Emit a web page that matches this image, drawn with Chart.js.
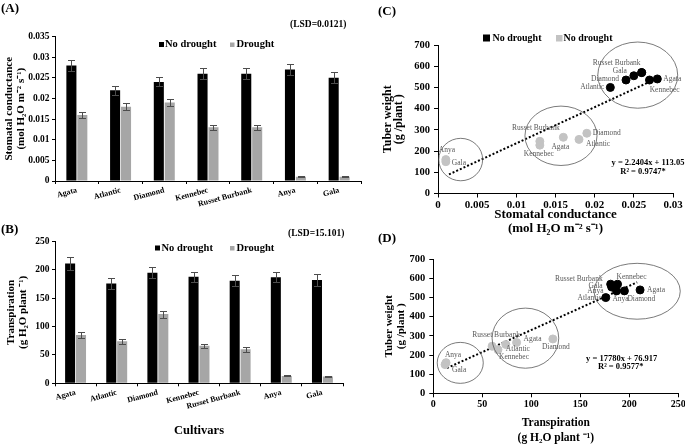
<!DOCTYPE html>
<html><head><meta charset="utf-8">
<script src="https://cdn.jsdelivr.net/npm/chart.js@4.4.0/dist/chart.umd.min.js"></script>
<style>
html,body{margin:0;padding:0;background:#fff;width:685px;height:446px;overflow:hidden}
canvas{position:absolute;display:block}
</style></head><body>
<canvas id="cA" width="365" height="220" style="left:0;top:0;width:365px;height:220px"></canvas>
<canvas id="cB" width="350" height="226" style="left:0;top:220px;width:350px;height:226px"></canvas>
<canvas id="cC" width="340" height="240" style="left:345px;top:0;width:340px;height:240px"></canvas>
<canvas id="cD" width="340" height="226" style="left:345px;top:220px;width:340px;height:226px"></canvas>
<script>
// ---------------- data ----------------
const cultivars = ['Agata','Atlantic','Diamond','Kennebec','Russet Burbank','Anya','Gala'];
const gsNoDrought    = [0.028, 0.022, 0.024, 0.026, 0.026, 0.027, 0.025];
const gsNoDroughtErr = [0.0014, 0.0011, 0.0011, 0.0013, 0.0013, 0.0014, 0.0013];
const gsDrought      = [0.016, 0.018, 0.019, 0.013, 0.013, 0.001, 0.001];
const gsDroughtErr   = [0.0008, 0.0009, 0.0009, 0.0006, 0.0006, 0.0001, 0.0001];
const trNoDrought    = [211, 176, 195, 188, 181, 187, 182];
const trNoDroughtErr = [11, 9, 10, 9, 10, 9, 10];
const trDrought      = [85, 74, 122, 66, 60, 13, 12];
const trDroughtErr   = [5, 4, 6, 3.5, 4, 1, 1];
const tuberNoDrought = [540, 500, 535, 570, 570, 535, 555];
const tuberDrought   = [265, 255, 284, 228, 246, 160, 150];
const gsTicks      = ['0','0.005','0.01','0.015','0.02','0.025','0.03','0.035'];
const trTicks      = ['0','50','100','150','200','250'];
const tuberTicks   = ['0','100','200','300','400','500','600','700'];
const gsXTicks     = ['0','0.005','0.01','0.015','0.02','0.025','0.03'];
const trXTicks     = ['0','50','100','150','200','250'];
const gsTrendX = [0.0014, 0.0281];
const gsTrendY = [90, 545];
const trTrendX = [14, 208];
const trTrendY = [132, 580];
// group ellipses in data units: centre x, centre y, radius x, radius y
const gsGroupCx = [0.0029, 0.0157, 0.0255];
const gsGroupCy = [160, 272, 558];
const gsGroupRx = [0.0028, 0.0046, 0.0051];
const gsGroupRy = [100, 140, 156];
const trGroupCx = [27.5, 94, 208];
const trGroupCy = [159, 288, 533];
const trGroupRx = [23.5, 34, 44];
const trGroupRy = [107, 157, 146];

// ---------------- helpers ----------------
const SERIF = '"Liberation Serif", "Times New Roman", serif';
const bold = (size, lh) => ({family: SERIF, weight: 'bold', size, lineHeight: lh || 1.2});

const errorBars = {
  id: 'errorBars',
  afterDatasetsDraw(chart) {
    const ctx = chart.ctx, ys = chart.scales.y;
    chart.data.datasets.forEach((ds, di) => {
      if (!ds.errors) return;
      chart.getDatasetMeta(di).data.forEach((bar, i) => {
        const v = ds.data[i], e = ds.errors[i];
        const yt = Math.round(ys.getPixelForValue(v + e)) + 0.5;
        const yb = Math.round(ys.getPixelForValue(v - e)) + 0.5;
        const x = Math.round(bar.x) + 0.5;
        ctx.save();
        ctx.strokeStyle = '#4d4d4d'; ctx.lineWidth = 1;
        ctx.beginPath();
        ctx.moveTo(x, yt); ctx.lineTo(x, yb);
        ctx.moveTo(x - 3.5, yt); ctx.lineTo(x + 3.5, yt);
        ctx.moveTo(x - 3.5, yb); ctx.lineTo(x + 3.5, yb);
        ctx.stroke(); ctx.restore();
      });
    });
  }
};

const texts = {
  id: 'texts',
  afterDraw(chart, args, opts) {
    const ctx = chart.ctx;
    (opts.items || []).forEach(it => {
      ctx.save();
      if (it.box) {
        ctx.fillStyle = it.color; ctx.fillRect(it.x, it.y, it.w, it.h);
      } else {
        ctx.font = 'bold ' + it.size + 'px ' + SERIF;
        ctx.fillStyle = '#000';
        ctx.textAlign = it.align || 'left';
        ctx.textBaseline = 'middle';
        ctx.fillText(it.t, it.x, it.y);
      }
      ctx.restore();
    });
  }
};

const pointLabels = {
  id: 'pointLabels',
  afterDraw(chart, args, opts) {
    const ctx = chart.ctx;
    (opts.items || []).forEach(it => {
      const el = chart.getDatasetMeta(it.ds).data[it.i];
      ctx.save();
      ctx.font = '7.5px ' + SERIF;
      ctx.fillStyle = '#595959';
      ctx.textAlign = it.align;
      ctx.textBaseline = 'middle';
      ctx.fillText(it.t || cultivars[it.i], el.x + it.dx, el.y + it.dy);
      ctx.restore();
    });
  }
};

const groupEllipses = {
  id: 'groupEllipses',
  afterDatasetsDraw(chart, args, opts) {
    const ctx = chart.ctx, xs = chart.scales.x, ys = chart.scales.y;
    const g = opts.groups;
    for (let k = 0; k < g.cx.length; k++) {
      const cx = xs.getPixelForValue(g.cx[k]), cy = ys.getPixelForValue(g.cy[k]);
      const rx = Math.abs(xs.getPixelForValue(g.cx[k] + g.rx[k]) - cx);
      const ry = Math.abs(ys.getPixelForValue(g.cy[k] + g.ry[k]) - cy);
      ctx.save();
      ctx.strokeStyle = '#595959'; ctx.lineWidth = 0.8;
      ctx.beginPath(); ctx.ellipse(cx, cy, rx, ry, 0, 0, Math.PI * 2); ctx.stroke();
      ctx.restore();
    }
  }
};

function fixY(width) {
  return s => { s.width = width; s.paddingTop = 0; s.paddingBottom = 0; };
}
function fixX(height) {
  return s => { s.height = height; s.paddingLeft = 0; s.paddingRight = 0; };
}

function barChart(id, vals, pads, xh, yMax, step, yTicks, yTitle, yTitleFont, yTitlePad, catPct, extraX, textItems) {
  return new Chart(document.getElementById(id), {
    type: 'bar',
    data: {
      labels: cultivars,
      datasets: [
        {label: 'No drought', data: vals[0], errors: vals[1], backgroundColor: '#000000',
         categoryPercentage: catPct, barPercentage: 0.92},
        {label: 'Drought', data: vals[2], errors: vals[3], backgroundColor: '#a6a6a6',
         categoryPercentage: catPct, barPercentage: 0.92}
      ]
    },
    options: {
      responsive: false, animation: false, events: [],
      layout: {padding: pads},
      plugins: {legend: {display: false}, tooltip: {enabled: false}, texts: {items: textItems}},
      scales: {
        x: Object.assign({
          grid: {display: true, drawOnChartArea: false, drawTicks: true, tickLength: 3, color: '#000', offset: true},
          border: {color: '#000', width: 1},
          ticks: {color: '#000', font: bold(8), minRotation: 15, maxRotation: 15, padding: 1.5, autoSkip: false},
          afterFit: fixX(xh)
        }, extraX),
        y: {
          min: 0, max: yMax,
          ticks: {stepSize: step, callback: (v, i) => yTicks[i], color: '#000', font: bold(9.5), padding: 2.5},
          grid: {drawOnChartArea: false, tickLength: 3, color: '#000'},
          border: {color: '#000', width: 1},
          title: {display: true, text: yTitle, color: '#000', font: yTitleFont, padding: {top: yTitlePad, bottom: 0}},
          afterFit: fixY(55)
        }
      }
    },
    plugins: [errorBars, texts]
  });
}

// Panel A
barChart('cA', [gsNoDrought, gsNoDroughtErr, gsDrought, gsDroughtErr],
  {left: 0, top: 36.5, right: 4, bottom: 0}, 39, 0.035, 0.005, gsTicks,
  ['Stomatal conductance', '(mol H\u2082O m\u207B\u00B2 s\u207B\u00B9)'], bold(11, '12px'), 2.7, 0.5, {},
  [
    {t: '(A)', x: 1, y: 9, size: 13},
    {t: '(LSD=0.0121)', x: 290, y: 25, size: 9.5},
    {box: true, x: 159, y: 42, w: 5, h: 5, color: '#000'},
    {t: 'No drought', x: 165, y: 44.5, size: 10.5},
    {box: true, x: 230, y: 42.5, w: 4.5, h: 4.5, color: '#a6a6a6'},
    {t: 'Drought', x: 236.5, y: 44.5, size: 10.5}
  ]);

// Panel B
barChart('cB', [trNoDrought, trNoDroughtErr, trDrought, trDroughtErr],
  {left: 0, top: 21.5, right: 7, bottom: 0}, 62.7, 250, 50, trTicks,
  ['Transpiration', '(g H\u2082O plant \u207B\u00B9)'], bold(11, '12px'), 5.5, 0.53,
  {title: {display: true, text: 'Cultivars', color: '#000', font: bold(12.5), padding: {top: 0, bottom: 8}}},
  [
    {t: '(B)', x: 1, y: 9.5, size: 13},
    {t: '(LSD=15.101)', x: 288, y: 14, size: 9.5},
    {box: true, x: 155, y: 25.5, w: 5, h: 5, color: '#000'},
    {t: 'No drought', x: 161.5, y: 28, size: 10.5},
    {box: true, x: 230, y: 26, w: 4.5, h: 4.5, color: '#a6a6a6'},
    {t: 'Drought', x: 236.5, y: 28, size: 10.5}
  ]);

function scatterChart(id, xs, xMax, xStep, xTicks, xTitle, xTitleFont, xTitlePad, pads, xh, yw, yTitleFont, yTitlePad, trendX, trendY, groups, labelItems, textItems, xTickFont) {
  const pts = (a, b) => a.map((v, i) => ({x: v, y: b[i]}));
  return new Chart(document.getElementById(id), {
    type: 'scatter',
    data: {
      datasets: [
        {label: 'No drought', data: pts(xs[0], tuberNoDrought), backgroundColor: '#000', borderColor: '#000', pointRadius: 4},
        {label: 'No drought', data: pts(xs[1], tuberDrought), backgroundColor: '#c3c3c3', borderColor: '#c3c3c3', pointRadius: 4},
        {label: 'trend', data: pts(trendX, trendY), showLine: true, borderColor: '#000', borderWidth: 2,
         borderDash: [2, 2], pointRadius: 0, fill: false}
      ]
    },
    options: {
      responsive: false, animation: false, events: [],
      layout: {padding: pads},
      plugins: {legend: {display: false}, tooltip: {enabled: false},
        texts: {items: textItems}, pointLabels: {items: labelItems}, groupEllipses: {groups: groups}},
      scales: {
        x: {
          type: 'linear', min: 0, max: xMax,
          ticks: {stepSize: xStep, callback: (v, i) => xTicks[i], color: '#000', font: xTickFont, padding: 1},
          grid: {drawOnChartArea: false, tickLength: 4, color: '#000'},
          border: {color: '#000', width: 1},
          title: {display: true, text: xTitle, color: '#000', font: xTitleFont, padding: {top: 0, bottom: xTitlePad}},
          afterFit: fixX(xh)
        },
        y: {
          min: 0, max: 700,
          ticks: {stepSize: 100, callback: (v, i) => tuberTicks[i], color: '#000', font: bold(10.5), padding: 4},
          grid: {drawOnChartArea: false, tickLength: 4, color: '#000'},
          border: {color: '#000', width: 1},
          title: {display: true, text: ['Tuber weight', '(g /plant )'], color: '#000', font: yTitleFont, padding: {top: yTitlePad, bottom: 0}},
          afterFit: fixY(yw)
        }
      }
    },
    plugins: [groupEllipses, pointLabels, texts]
  });
}

// Panel C
scatterChart('cC', [gsNoDrought, gsDrought], 0.03, 0.005, gsXTicks,
  ['Stomatal conductance', '(mol H\u2082O m\u207B\u00B2 s\u207B\u00B9)'], bold(13, '14px'), 4,
  {left: 0, top: 45, right: 12, bottom: 0}, 46.5, 93, bold(12, '11px'), 37.5,
  gsTrendX, gsTrendY,
  {cx: gsGroupCx, cy: gsGroupCy, rx: gsGroupRx, ry: gsGroupRy},
  [
    {ds: 0, i: 0, dx: 6, dy: 0, align: 'left'},
    {ds: 0, i: 1, dx: -6, dy: 0, align: 'right'},
    {ds: 0, i: 2, dx: -7, dy: -1, align: 'right'},
    {ds: 0, i: 3, dx: 8, dy: 17, align: 'left'},
    {ds: 0, i: 4, dx: -25, dy: -10, align: 'center'},
    {ds: 0, i: 6, dx: -14, dy: -5, align: 'center'},
    {ds: 1, i: 0, dx: -3, dy: 10, align: 'center'},
    {ds: 1, i: 1, dx: 7, dy: 5, align: 'left'},
    {ds: 1, i: 2, dx: 6, dy: 0, align: 'left'},
    {ds: 1, i: 3, dx: -1, dy: 9, align: 'center'},
    {ds: 1, i: 4, dx: -4, dy: -13, align: 'center'},
    {ds: 1, i: 5, dx: 1, dy: -10, align: 'center'},
    {ds: 1, i: 6, dx: 6, dy: 1, align: 'left'}
  ],
  [
    {t: '(C)', x: 33, y: 11.5, size: 13},
    {box: true, x: 138, y: 34.5, w: 7, h: 7, color: '#000'},
    {t: 'No drought', x: 147.5, y: 38, size: 10},
    {box: true, x: 211, y: 35, w: 6.5, h: 6.5, color: '#c3c3c3'},
    {t: 'No drought', x: 218.5, y: 38, size: 10},
    {t: 'y = 2.2404x + 113.05', x: 303, y: 163, size: 8.5, align: 'center'},
    {t: 'R\u00B2 = 0.9747*', x: 298, y: 172, size: 8.5, align: 'center'}
  ], bold(11));

// Panel D
scatterChart('cD', [trNoDrought, trDrought], 250, 50, trXTicks,
  ['Transpiration', '(g H\u2082O plant \u207B\u00B9)'], bold(11.5, '15px'), 0.5,
  {left: 0, top: 39.3, right: 6.7, bottom: 0}, 52.7, 88.3, bold(11, '12px'), 38.5,
  trTrendX, trTrendY,
  {cx: trGroupCx, cy: trGroupCy, rx: trGroupRx, ry: trGroupRy},
  [
    {ds: 0, i: 0, dx: 7, dy: 0, align: 'left'},
    {ds: 0, i: 1, dx: -4, dy: 0, align: 'right'},
    {ds: 0, i: 2, dx: 3, dy: 8, align: 'left'},
    {ds: 0, i: 3, dx: 14, dy: -7.5, align: 'center'},
    {ds: 0, i: 4, dx: -8, dy: -5, align: 'right'},
    {ds: 0, i: 5, dx: 4, dy: 8, align: 'center'},
    {ds: 0, i: 5, dx: -13, dy: 0, align: 'right'},
    {ds: 0, i: 6, dx: -9, dy: -1, align: 'right'},
    {ds: 1, i: 0, dx: 7, dy: -4, align: 'left'},
    {ds: 1, i: 1, dx: 12, dy: 5, align: 'center'},
    {ds: 1, i: 2, dx: 3, dy: 8, align: 'center'},
    {ds: 1, i: 3, dx: 16, dy: 7, align: 'center'},
    {ds: 1, i: 4, dx: 4, dy: -11, align: 'center'},
    {ds: 1, i: 5, dx: 7, dy: -8, align: 'center'},
    {ds: 1, i: 6, dx: 7, dy: 5, align: 'left'}
  ],
  [
    {t: '(D)', x: 33, y: 18.5, size: 13},
    {t: 'y = 17780x + 76.917', x: 276.7, y: 138.3, size: 8.5, align: 'center'},
    {t: 'R\u00B2 = 0.9577*', x: 275.7, y: 146.7, size: 8.5, align: 'center'}
  ], bold(10));
</script>
</body></html>
